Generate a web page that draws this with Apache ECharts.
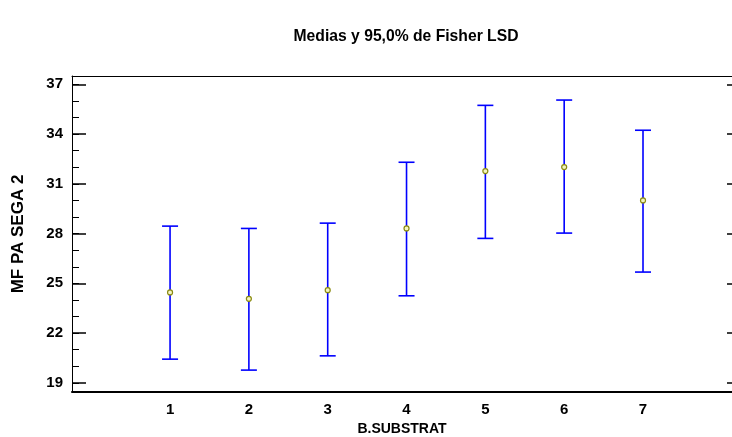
<!DOCTYPE html>
<html>
<head>
<meta charset="utf-8">
<script src="https://cdn.jsdelivr.net/npm/echarts@6/dist/echarts.min.js"></script>
<style>html,body{margin:0;padding:0;background:#fff}#c{width:732px;height:437px}</style>
</head>
<body>
<div id="c"></div>
<script>
const categories = [1, 2, 3, 4, 5, 6, 7];
const means = [24.45, 24.07, 24.59, 28.31, 31.77, 32.01, 30.0];
const lower = [20.43, 19.77, 20.63, 24.25, 27.71, 28.03, 25.68];
const upper = [28.45, 28.31, 28.63, 32.30, 35.73, 36.05, 34.23];
const yTicks = [19, 22, 25, 28, 31, 34, 37];
const titleText = 'Medias y 95,0% de Fisher LSD';
const xName = 'B.SUBSTRAT';
const yName = 'MF PA SEGA 2';

const minorTicks = [];
for (let v = yTicks[0]; v <= yTicks[yTicks.length - 1]; v++) minorTicks.push(v);

const FONT = 'Liberation Sans, Arial, sans-serif';
const YMIN = 18.45, YMAX = 37.5;
const XMIN = -0.244, XMAX = 8.129;

const data = categories.map((c, i) => [c, lower[i], upper[i], means[i]]);

const chart = echarts.init(document.getElementById('c'), null, {renderer: 'canvas'});
chart.setOption({
  animation: false,
  backgroundColor: '#fff',
  title: {
    text: titleText,
    left: 401,
    top: 24,
    textAlign: 'center',
    textStyle: {fontFamily: FONT, fontWeight: 'bold', fontSize: 15.7, color: '#000'}
  },
  grid: {
    left: 72, right: 0, top: 76, bottom: 45,
    containLabel: false,
    outerBoundsMode: 'none',
    show: false
  },
  xAxis: [
    {
      type: 'value',
      min: XMIN, max: XMAX,
      position: 'bottom',
      name: xName,
      nameLocation: 'middle',
      nameGap: 27,
      nameTextStyle: {fontFamily: FONT, fontWeight: 'bold', fontSize: 14, color: '#000'},
      axisLine: {show: true, onZero: false, lineStyle: {color: '#000', width: 2}},
      axisTick: {show: false},
      splitLine: {show: false},
      axisLabel: {
        customValues: categories,
        margin: 10,
        fontFamily: FONT, fontWeight: 'bold', fontSize: 15, color: '#000'
      }
    },
    {
      type: 'value',
      min: XMIN, max: XMAX,
      position: 'top',
      axisLine: {show: true, onZero: false, lineStyle: {color: '#000', width: 1}},
      axisTick: {show: false},
      axisLabel: {show: false},
      splitLine: {show: false}
    }
  ],
  yAxis: [
    {
      type: 'value', min: YMIN, max: YMAX, position: 'left', offset: 0,
      name: yName,
      nameLocation: 'middle',
      nameGap: 45,
      nameTextStyle: {fontFamily: FONT, fontWeight: 'bold', fontSize: 17, color: '#000'},
      axisLine: {show: true, onZero: false, lineStyle: {color: '#000', width: 1}},
      axisTick: {show: true, inside: true, length: 14, customValues: yTicks, lineStyle: {color: '#000', width: 1.5}},
      axisLabel: {customValues: yTicks, margin: 9, fontFamily: FONT, fontWeight: 'bold', fontSize: 15, color: '#000'},
      splitLine: {show: false}
    },
    {
      type: 'value', min: YMIN, max: YMAX, position: 'left', offset: 0,
      axisLine: {show: false, onZero: false},
      axisTick: {show: true, inside: true, length: 7, customValues: minorTicks, lineStyle: {color: '#000', width: 1}},
      axisLabel: {show: false},
      splitLine: {show: false}
    },
    {
      type: 'value', min: YMIN, max: YMAX, position: 'right', offset: 0,
      axisLine: {show: false, onZero: false},
      axisTick: {show: true, inside: true, length: 5, customValues: yTicks, lineStyle: {color: '#000', width: 1.5}},
      axisLabel: {show: false},
      splitLine: {show: false}
    }
  ],
  series: [{
    type: 'custom',
    xAxisIndex: 0,
    yAxisIndex: 0,
    data: data,
    encode: {x: 0, y: [1, 2, 3]},
    renderItem: function (params, api) {
      const x = api.value(0);
      const lo = api.coord([x, api.value(1)]);
      const hi = api.coord([x, api.value(2)]);
      const m = api.coord([x, api.value(3)]);
      const cap = 8;
      const blue = {stroke: '#0000ff', lineWidth: 1.6};
      return {
        type: 'group',
        children: [
          {type: 'line', shape: {x1: hi[0], y1: hi[1], x2: lo[0], y2: lo[1]}, style: blue},
          {type: 'line', shape: {x1: hi[0] - cap, y1: hi[1], x2: hi[0] + cap, y2: hi[1]}, style: blue},
          {type: 'line', shape: {x1: lo[0] - cap, y1: lo[1], x2: lo[0] + cap, y2: lo[1]}, style: blue},
          {type: 'circle', shape: {cx: m[0], cy: m[1], r: 2.5}, style: {fill: '#f4f4c0', stroke: '#8a8a10', lineWidth: 1.2}}
        ]
      };
    }
  }]
});
</script>
</body>
</html>
